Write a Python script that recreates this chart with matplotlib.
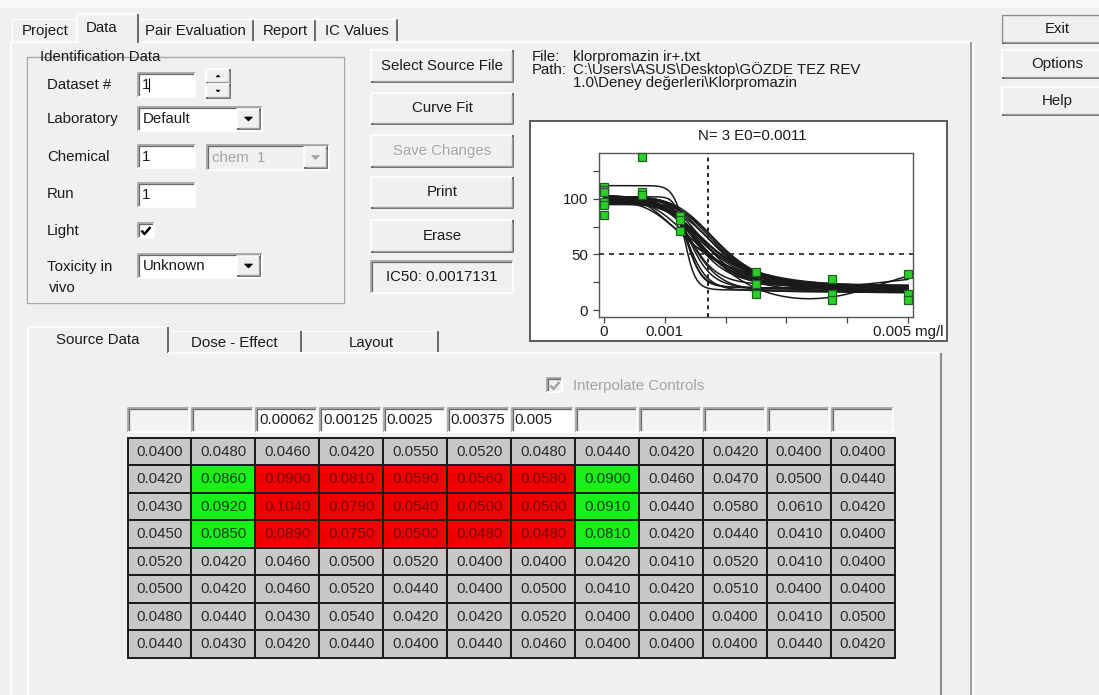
import numpy as np
import matplotlib.pyplot as plt
from matplotlib.patches import Rectangle, Polygon

plt.rcParams['font.family'] = ['Liberation Sans', 'DejaVu Sans']

# ---- data ----
# source data grid, 8 rows x 12 wells
table_rows = [
    [0.0400, 0.0480, 0.0460, 0.0420, 0.0550, 0.0520, 0.0480, 0.0440, 0.0420, 0.0420, 0.0400, 0.0400],
    [0.0420, 0.0860, 0.0900, 0.0810, 0.0590, 0.0560, 0.0580, 0.0900, 0.0460, 0.0470, 0.0500, 0.0440],
    [0.0430, 0.0920, 0.1040, 0.0790, 0.0540, 0.0500, 0.0500, 0.0910, 0.0440, 0.0580, 0.0610, 0.0420],
    [0.0450, 0.0850, 0.0890, 0.0750, 0.0500, 0.0480, 0.0480, 0.0810, 0.0420, 0.0440, 0.0410, 0.0400],
    [0.0520, 0.0420, 0.0460, 0.0500, 0.0520, 0.0400, 0.0400, 0.0420, 0.0410, 0.0520, 0.0410, 0.0400],
    [0.0500, 0.0420, 0.0460, 0.0520, 0.0440, 0.0400, 0.0500, 0.0410, 0.0420, 0.0510, 0.0400, 0.0400],
    [0.0480, 0.0440, 0.0430, 0.0540, 0.0420, 0.0420, 0.0520, 0.0400, 0.0400, 0.0400, 0.0410, 0.0500],
    [0.0440, 0.0430, 0.0420, 0.0440, 0.0400, 0.0440, 0.0460, 0.0400, 0.0400, 0.0400, 0.0440, 0.0420],
]
# g = control well, r = treated well, . = not used
cell_state = [
    "............",
    ".grrrrrg....",
    ".grrrrrg....",
    ".grrrrrg....",
    "............",
    "............",
    "............",
    "............",
]
dose_labels = ["", "", "0.00062", "0.00125", "0.0025", "0.00375", "0.005", "", "", "", "", ""]

# responses (% of control) shown as green squares
pt_dose = [0, 0, 0, 0, 0, 0,
           0.00062, 0.00062, 0.00062,
           0.00125, 0.00125, 0.00125,
           0.0025, 0.0025, 0.0025,
           0.00375, 0.00375, 0.00375,
           0.005, 0.005, 0.005]
pt_resp = [111, 108, 106, 97, 95, 86,
           138, 106, 104,
           85, 81, 71,
           34, 23, 14,
           28, 14, 9,
           32, 14, 9]

# bootstrap fits: top, bottom, EC50, slope, late rise, rise point
fit_top = [112, 102, 100, 99, 101, 98, 100, 97, 102, 99, 96, 100, 98, 101,
           97, 100, 99, 95, 102, 98, 100, 96, 100, 99, 103, 97, 100]
fit_bottom = [20, 18, 20, 17, 19, 16, 21, 18, 20, 15, 19, 22, 17, 18,
              20, 18, 21, 16, 19, 22, 0, 19, 15, 20, 17, 21, 18]
fit_ec50 = [0.00136, 0.00134, 0.00137, 0.00140, 0.00143, 0.00148, 0.00152, 0.00150,
            0.00162, 0.00158, 0.00175, 0.00182, 0.00185, 0.00190, 0.00172, 0.00165,
            0.00155, 0.00180, 0.00178, 0.00146, 0.00175, 0.00192, 0.00160, 0.00170,
            0.00145, 0.00168, 0.00160]
fit_slope = [12, 16, 11, 9, 8, 6.5, 5.5, 3.4, 4, 3.6, 4.2, 5.2, 4.6, 5.0,
             4.4, 4.2, 5, 4.5, 4.8, 7, 4, 5.5, 4.5, 3.8, 3.0, 6, 5]
fit_rise = [0] * 20 + [44] + [0] * 5 + [16]
fit_rise_at = [0.0046] * 26 + [0.0048]

ic50 = 0.0017131

BG = '#f0f0f0'
FS = 10.8
TXT = '#1a1a1a'
GRAY_TXT = '#a3a3a3'

fig = plt.figure(figsize=(10.99, 6.95), dpi=100, facecolor=BG)
ax = fig.add_axes([0, 0, 1, 1])
ax.set_xlim(0, 1099)
ax.set_ylim(695, 0)
ax.axis('off')


def rect(x0, y0, x1, y1, fc, ec='none', lw=1.0, z=1):
    ax.add_patch(Rectangle((x0, y0), x1 - x0, y1 - y0, facecolor=fc,
                           edgecolor=ec, linewidth=lw, zorder=z))


def line(xs, ys, c, lw=1.0, z=3, ls='-'):
    ax.plot(xs, ys, color=c, lw=lw, zorder=z, ls=ls, solid_capstyle='butt')


def txt(x, y, s, ha='left', color=TXT, size=FS, z=6):
    ax.text(x, y, s, ha=ha, va='center', color=color, fontsize=size, zorder=z)


def raised(x0, y0, x1, y1, fc=BG, z=2):
    rect(x0, y0, x1, y1, fc, z=z)
    line([x0, x0, x1], [y1, y0, y0], '#ffffff', 1.2, z + 0.1)
    line([x0, x1, x1], [y1, y1, y0], '#696969', 1.4, z + 0.1)
    line([x0 + 1.5, x1 - 1.5, x1 - 1.5], [y1 - 1.5, y1 - 1.5, y0 + 1.5], '#a0a0a0', 1.0, z + 0.1)


def sunken(x0, y0, x1, y1, fc='white', z=2):
    rect(x0, y0, x1, y1, fc, z=z)
    line([x0, x0, x1], [y1, y0, y0], '#a0a0a0', 1.2, z + 0.1)
    line([x0 + 1.3, x0 + 1.3, x1 - 1], [y1 - 1, y0 + 1.3, y0 + 1.3], '#696969', 0.9, z + 0.1)
    line([x0, x1, x1], [y1, y1, y0], '#ffffff', 1.2, z + 0.1)


def tri(cx, cy, s=4.0, c='black', up=False, z=5):
    if up:
        pts = [(cx - s, cy + s / 2), (cx + s, cy + s / 2), (cx, cy - s / 2)]
    else:
        pts = [(cx - s, cy - s / 2), (cx + s, cy - s / 2), (cx, cy + s / 2)]
    ax.add_patch(Polygon(pts, closed=True, facecolor=c, edgecolor=c, lw=0.5, zorder=z))


def combo(x0, y0, x1, y1, s, disabled=False):
    sunken(x0, y0, x1, y1, BG if disabled else 'white')
    raised(x1 - 25, y0 + 2, x1 - 2, y1 - 2)
    tri(x1 - 13.5, y0 + (y1 - y0) / 2, 4, GRAY_TXT if disabled else 'black')
    txt(x0 + 5, (y0 + y1) / 2, s, color=GRAY_TXT if disabled else TXT)


def check(x0, y0, c='black'):
    line([x0 + 3, x0 + 6, x0 + 12], [y0 + 7, y0 + 10.5, y0 + 3.5], c, 1.8, 6)


# top strip
rect(0, 0, 1099, 8, '#fafafa', z=0.5)

# ---- top tabs ----
line([12, 77], [42, 42], '#ffffff', 1.2)
line([138, 971], [42, 42], '#ffffff', 1.2)
line([11, 11], [42, 695], '#ffffff', 1.2)
line([12, 12, 76], [42, 19, 19], '#ffffff', 1.0)
line([77, 77, 137], [43, 14, 14], '#ffffff', 1.2)
line([138, 138], [14, 43], '#696969', 1.4)
for sx in [253, 315, 397]:
    line([sx, sx], [19, 41], '#696969', 1.4)
line([140, 396], [19, 19], '#ffffff', 1.0)
txt(22, 31, "Project")
txt(86, 28, "Data")
txt(145, 31, "Pair Evaluation")
txt(263, 31, "Report")
txt(325, 31, "IC Values")
# main panel right border
line([971, 971], [42, 695], '#a0a0a0', 1.4)
line([972.5, 972.5], [42, 695], '#ffffff', 1.0)

# ---- identification group ----
line([27, 27, 344, 344, 27], [57, 303, 303, 57, 57], '#a8a8a8', 1.0)
rect(36, 50, 165, 64, BG, z=2)
line([28, 28, 343, 343], [58, 302, 302, 58], '#ffffff', 0.8, 1.5)
txt(40, 57, "Identification Data")

txt(47, 85, "Dataset #")
sunken(138, 73, 195, 97)
txt(142, 85, "1")
line([149, 149], [78, 92], 'black', 0.8, 6)
raised(206, 69, 230, 83)
raised(206, 84, 230, 98)
tri(218, 76, 1.8, up=True)
tri(218, 91, 1.8)

txt(47, 119, "Laboratory")
combo(138, 107, 262, 131, "Default")

txt(47, 157, "Chemical")
sunken(138, 145, 195, 168)
txt(142, 157, "1")
combo(207, 145, 329, 170, "chem  1", disabled=True)

txt(47, 194, "Run")
sunken(138, 183, 195, 207)
txt(142, 195, "1")

txt(47, 231, "Light")
sunken(138, 223, 154, 238)
check(138.5, 223.5)

txt(47, 267, "Toxicity in")
txt(49, 288, "vivo")
combo(138, 254, 262, 278, "Unknown")

# ---- action buttons ----
buttons = [("Select Source File", 50, 82), ("Curve Fit", 93, 124),
           ("Save Changes", 135, 167), ("Print", 177, 208), ("Erase", 220, 252)]
for label, y0, y1 in buttons:
    raised(371, y0, 513, y1)
    if label == "Save Changes":
        txt(443, (y0 + y1) / 2 + 1, label, ha='center', color='#ffffff', z=5.5)
        txt(442, (y0 + y1) / 2, label, ha='center', color=GRAY_TXT)
    else:
        txt(442, (y0 + y1) / 2, label, ha='center')
sunken(371, 261, 513, 293, BG)
txt(442, 277, "IC50: 0.0017131", ha='center')

# right column buttons
for label, y0, y1 in [("Exit", 15, 43), ("Options", 50, 78), ("Help", 87, 115)]:
    raised(1002, y0, 1110, y1)
    txt(1057, (y0 + y1) / 2, label, ha='center')
line([1002, 1002, 1099], [43, 15, 15], '#8a8a8a', 1.0, 4)

# ---- file info ----
txt(532, 57, "File:")
txt(573, 57, "klorpromazin ir+.txt")
txt(532, 70, "Path:")
txt(573, 70, r"C:\Users\ASUS\Desktop\GÖZDE TEZ REV")
txt(573, 83, r"1.0\Deney değerleri\Klorpromazin")

# ---- chart frame ----
rect(530, 121, 947, 341, 'white', '#5a5a5a', 1.4, z=2)

# ---- lower tabs ----
line([28, 28, 167], [695, 327, 327], '#ffffff', 1.2)
line([168, 168], [327, 353], '#696969', 1.4)
line([168, 940], [353, 353], '#ffffff', 1.2)
line([170, 437], [331, 331], '#ffffff', 1.0)
for sx in [301, 438]:
    line([sx, sx], [331, 352], '#696969', 1.4)
line([940.5, 940.5], [353, 695], '#8c8c8c', 1.6)
txt(98, 340, "Source Data", ha='center')
txt(234, 343, "Dose - Effect", ha='center')
txt(371, 343, "Layout", ha='center')

# interpolate controls (disabled)
sunken(547, 378, 562, 392, BG)
check(547.5, 378.5, GRAY_TXT)
txt(573, 386, "Interpolate Controls", color=GRAY_TXT)

# ---- source data grid ----
col_x0 = 127.5
col_w = 63.96
row_y0 = 437.7
row_h = 27.5
cell_fc = {'.': '#c8c8c8', 'g': '#19f019', 'r': '#f00000'}
cell_tc = {'.': '#2a2a2a', 'g': '#0f3f0f', 'r': '#7a0000'}

for j, lab in enumerate(dose_labels):
    x0 = col_x0 + j * col_w + 0.5
    sunken(x0, 408, x0 + col_w - 3, 432, 'white' if lab else '#f2f2f2')
    if lab:
        txt(x0 + 3, 420.5, lab)

for i, row in enumerate(table_rows):
    for j, v in enumerate(row):
        st = cell_state[i][j]
        x0 = col_x0 + j * col_w
        y0 = row_y0 + i * row_h
        rect(x0, y0, x0 + col_w, y0 + row_h, cell_fc[st], '#1a1a1a', 1.4, z=2)
        txt(x0 + col_w / 2, y0 + row_h / 2 + 0.5, f"{v:.4f}", ha='center', color=cell_tc[st])

# ---- dose-response chart ----
axp = fig.add_axes([599 / 1099, 1 - 317 / 695, 314 / 1099, 164 / 695])
axp.set_facecolor('white')
xs = np.linspace(1e-9, 0.005, 400)
for T, B, E, H, R, XR in zip(fit_top, fit_bottom, fit_ec50, fit_slope, fit_rise, fit_rise_at):
    ys = B + (T - B) / (1 + (xs / E) ** H) + R / (1 + (XR / xs) ** 8)
    axp.plot(xs, ys, color='#1a1a1a', lw=1.1, zorder=2)
axp.axvline(ic50, color='#222222', lw=1.4, ls=(0, (2, 2)), zorder=3)
axp.axhline(50, color='#222222', lw=1.2, ls=(0, (3, 3)), zorder=3)
axp.plot(pt_dose, pt_resp, ls='none', marker='s', ms=6, mfc='#2bd12b',
         mec='#1f5f1f', mew=0.9, zorder=5, clip_on=False)
axp.set_xlim(-0.0000822, 0.005082)
axp.set_ylim(-6.3, 141.4)
axp.set_xticks([0, 0.001, 0.002, 0.003, 0.004, 0.005])
axp.set_xticklabels(['0', '0.001', '', '', '', '0.005 mg/l'])
axp.set_yticks([0, 25, 50, 75, 100, 125])
axp.set_yticklabels(['0', '', '50', '', '100', ''])
axp.tick_params(axis='x', direction='out', length=4, width=0.9, color='#444444',
                labelsize=FS, labelcolor=TXT, pad=2)
axp.tick_params(axis='y', direction='out', length=4, width=0.9, color='#444444',
                labelsize=FS, labelcolor=TXT, pad=4)
for sp in axp.spines.values():
    sp.set_color('#555555')
    sp.set_linewidth(1.0)
txt(752, 136, "N= 3 E0=0.0011", ha='center')

fig.savefig('out.png', dpi=100, facecolor=BG)
